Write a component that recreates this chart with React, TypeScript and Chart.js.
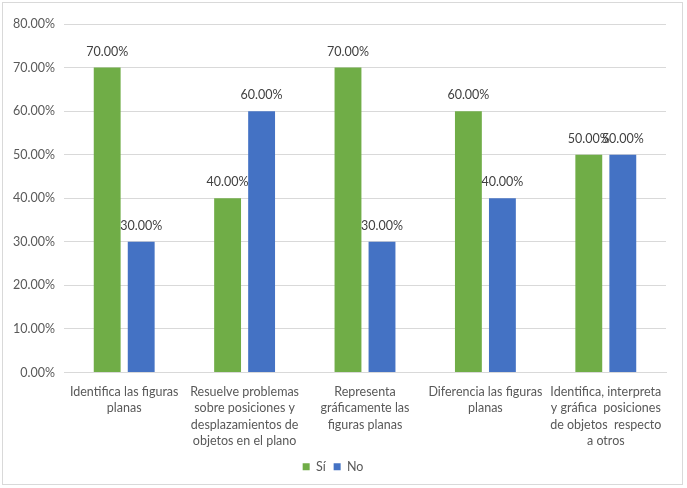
import React, { useEffect, useRef } from "react";
import { Chart, registerables } from "chart.js";

Chart.register(...registerables);

const categories: string[][] = [
  ["Identifica las figuras", "planas"],
  ["Resuelve problemas", "sobre posiciones y", "desplazamientos de", "objetos en el plano"],
  ["Representa", "gráficamente las", "figuras planas"],
  ["Diferencia las figuras", "planas"],
  ["Identifica, interpreta", "y gráfica  posiciones", "de objetos  respecto", "a otros"],
];
const siValues = [70, 40, 70, 60, 50];
const noValues = [30, 60, 30, 40, 50];
const seriesNames = ["Sí", "No"];

const FONT = "Lato, 'Open Sans', sans-serif";
const TEXT = "#595959";

const borderPlugin = {
  id: "outerBorder",
  beforeDraw(chart: any) {
    const ctx = chart.ctx;
    ctx.save();
    ctx.fillStyle = "#ffffff";
    ctx.fillRect(0, 0, chart.width, chart.height);
    ctx.strokeStyle = "#d9d9d9";
    ctx.lineWidth = 1;
    ctx.strokeRect(2.5, 2.5, 680, 482);
    ctx.restore();
  },
};

const labelPlugin = {
  id: "barLabels",
  afterDatasetsDraw(chart: any) {
    const ctx = chart.ctx;
    ctx.save();
    ctx.font = `12.5px ${FONT}`;
    ctx.fillStyle = "#404040";
    ctx.textAlign = "center";
    ctx.textBaseline = "middle";
    chart.data.datasets.forEach((ds: any, i: number) => {
      const meta = chart.getDatasetMeta(i);
      meta.data.forEach((bar: any, j: number) => {
        ctx.fillText(ds.data[j].toFixed(2) + "%", bar.x, bar.y - 16);
      });
    });
    ctx.restore();
  },
};

export default function App() {
  const ref = useRef<HTMLCanvasElement>(null);
  useEffect(() => {
    if (!ref.current) return;
    const chart = new Chart(ref.current, {
      type: "bar",
      data: {
        labels: categories,
        datasets: [
          { label: seriesNames[0], data: siValues, backgroundColor: "#70AD47" },
          { label: seriesNames[1], data: noValues, backgroundColor: "#4472C4" },
        ],
      },
      options: {
        animation: false,
        responsive: false,
        devicePixelRatio: 1,
        layout: { padding: { top: 24, right: 21, bottom: 5, left: 0 } },
        datasets: {
          bar: { categoryPercentage: 0.565, barPercentage: 0.79 },
        },
        scales: {
          x: {
            grid: { display: false, drawTicks: false },
            border: { display: true, color: "#d9d9d9" },
            ticks: {
              color: TEXT,
              font: { family: FONT, size: 12.5, lineHeight: 1.32 },
              padding: 11,
              maxRotation: 0,
              autoSkip: false,
            },
            afterFit(scale: any) {
              scale.height = 80;
            },
          },
          y: {
            min: 0,
            max: 80,
            ticks: {
              stepSize: 10,
              color: TEXT,
              font: { family: FONT, size: 12.5 },
              padding: 9,
              callback: (v: any) => Number(v).toFixed(2) + "%",
            },
            grid: { color: "#d9d9d9", drawTicks: false },
            border: { display: false },
            afterFit(scale: any) {
              scale.width = 64;
            },
          },
        },
        plugins: {
          legend: {
            position: "bottom",
            labels: {
              boxWidth: 7,
              boxHeight: 7,
              padding: 8,
              color: TEXT,
              font: { family: FONT, size: 12.5 },
            },
          },
          tooltip: { enabled: false },
        },
      },
      plugins: [borderPlugin, labelPlugin],
    });
    return () => chart.destroy();
  }, []);
  return (
    <div style={{ position: "fixed", left: 0, top: 0 }}>
      <canvas ref={ref} width={687} height={488} style={{ display: "block" }} />
    </div>
  );
}
